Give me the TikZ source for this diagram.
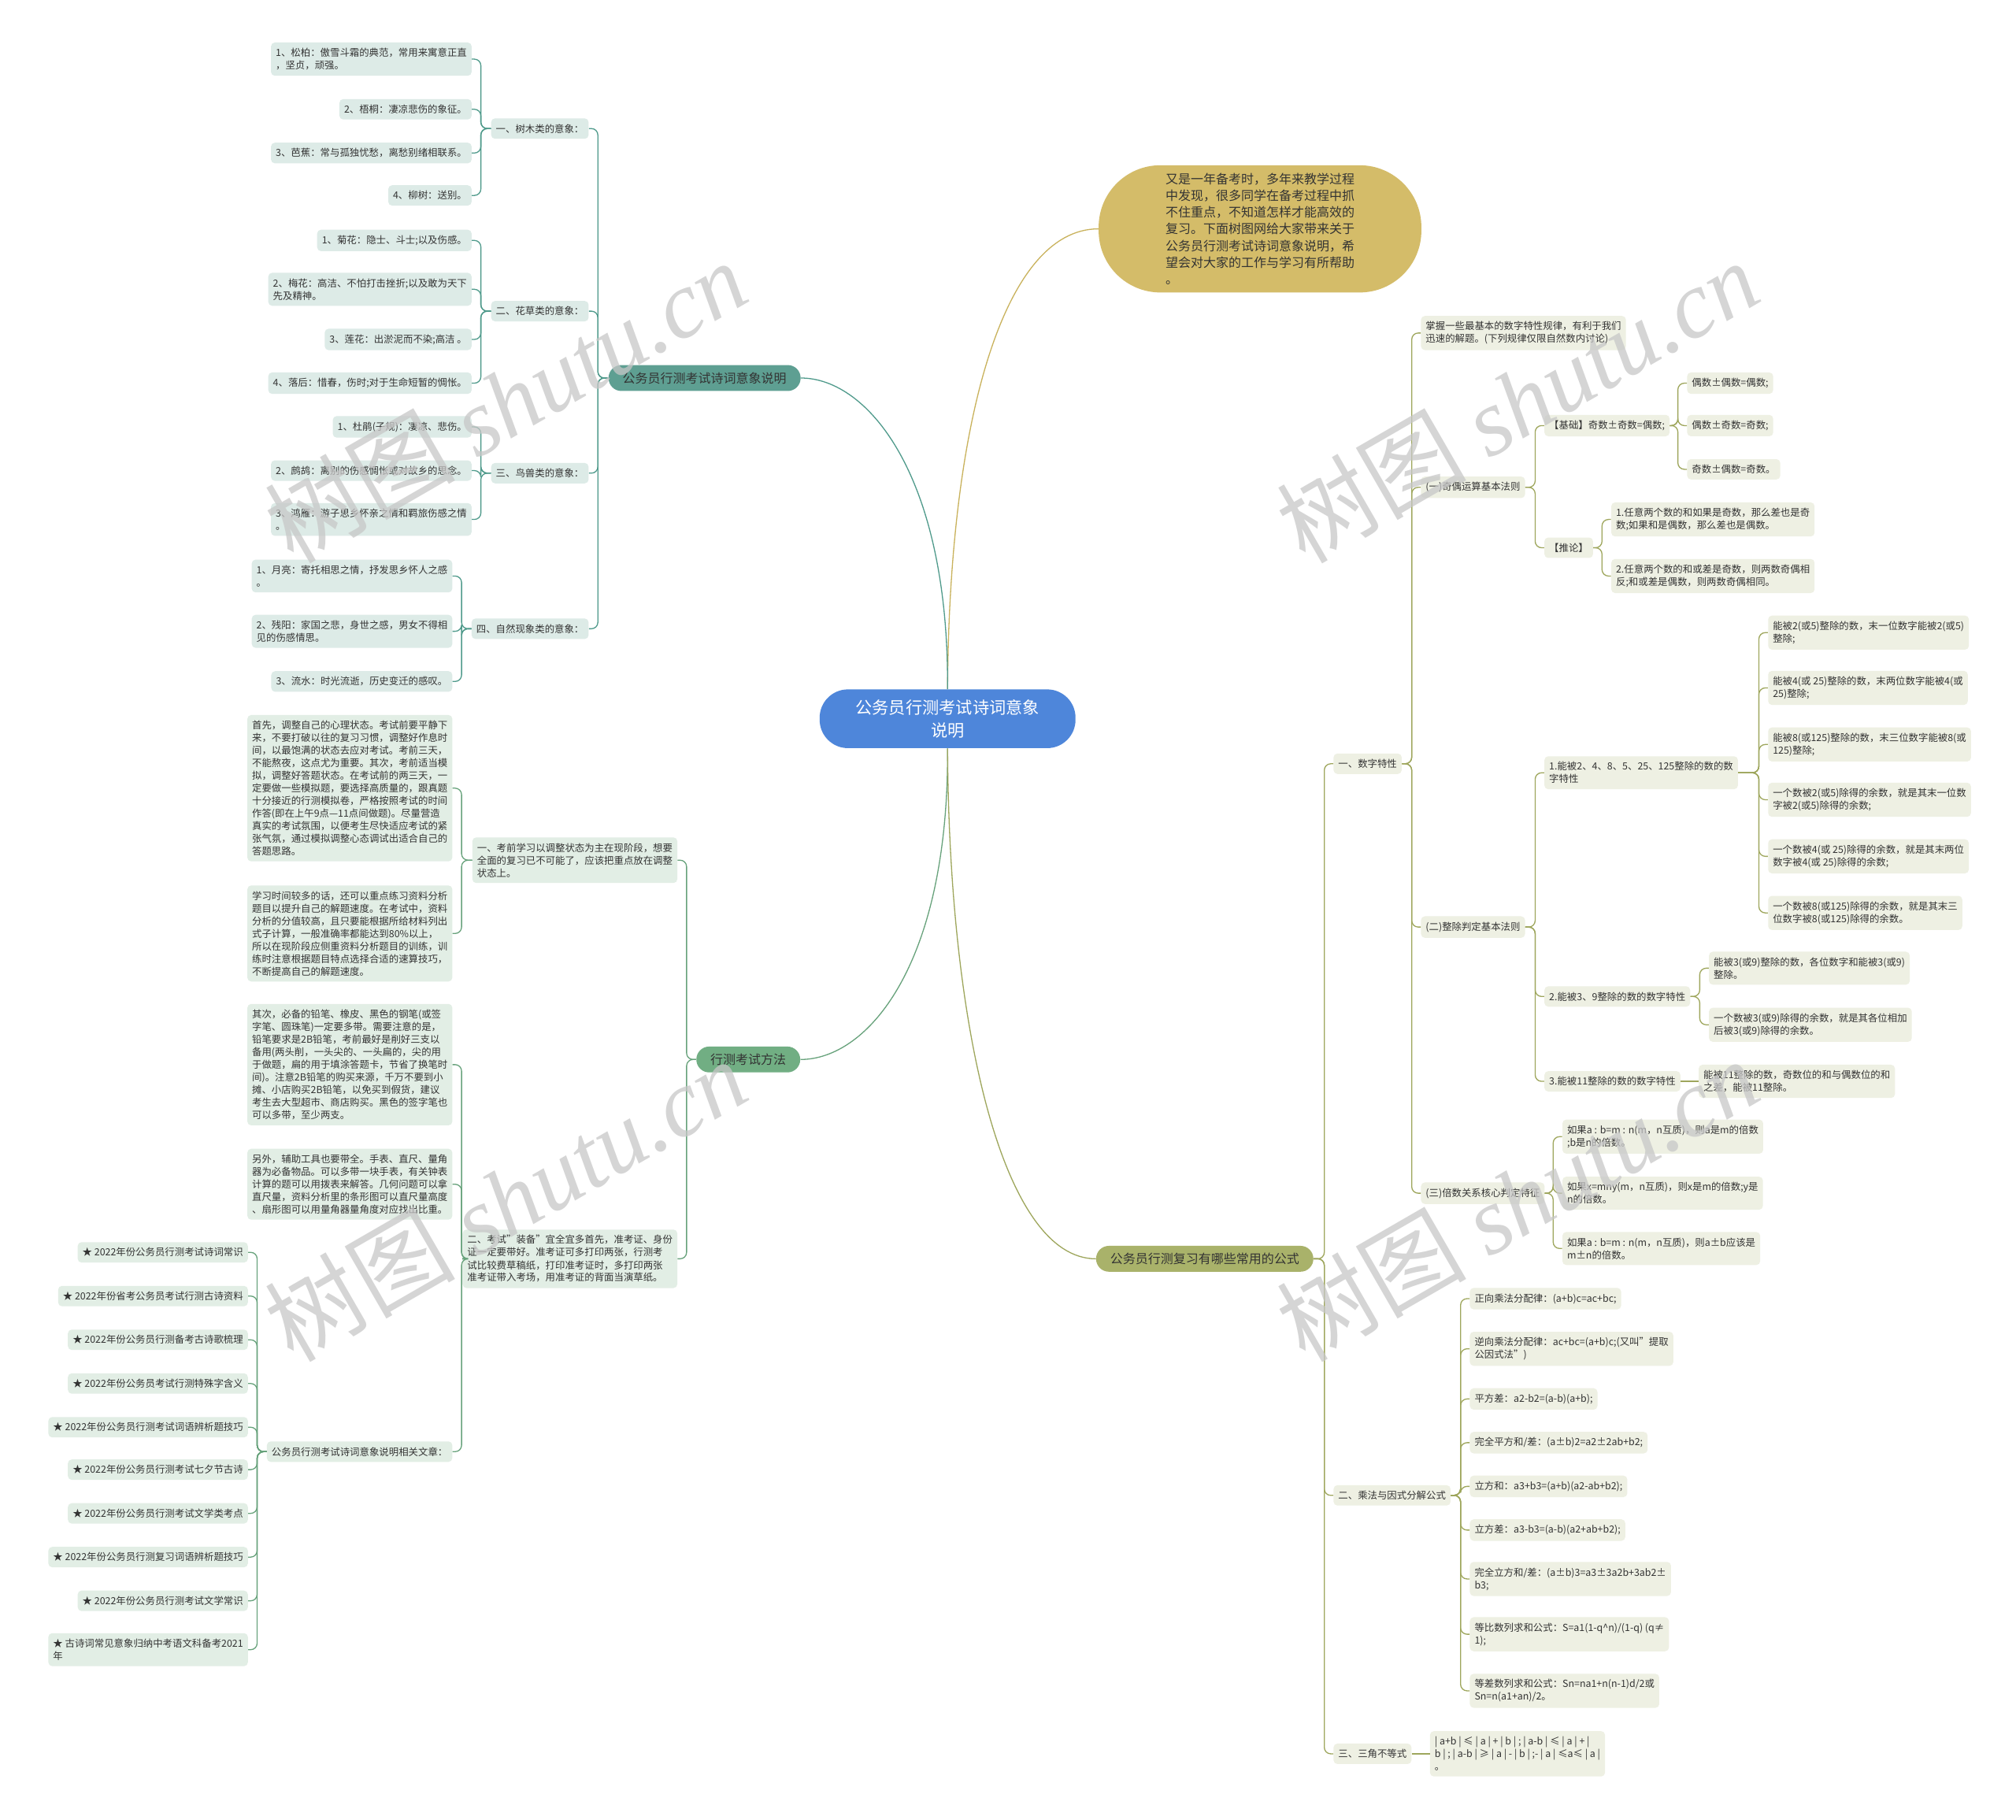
\documentclass[tikz,border=0pt]{standalone}
\usepackage{fontspec}
\setmainfont{Noto Sans CJK SC}
\newfontfamily\wmlatin{Liberation Serif}
\definecolor{rootblue}{HTML}{4E86DA}
\definecolor{introgold}{HTML}{D4BC69}
\definecolor{introline}{HTML}{C9B25C}
\definecolor{tealnode}{HTML}{5E9F92}
\definecolor{tealline}{HTML}{4F9A8B}
\definecolor{tealleaf}{HTML}{DDEBE7}
\definecolor{greennode}{HTML}{71AE83}
\definecolor{greenline}{HTML}{67A27B}
\definecolor{greenleaf}{HTML}{E2EEE5}
\definecolor{olivenode}{HTML}{A9B26A}
\definecolor{oliveline}{HTML}{9EA65C}
\definecolor{oliveleaf}{HTML}{EEF0E3}
\definecolor{ink}{HTML}{333333}
\newcommand{\leafsz}{\fontsize{7.6}{9.8}\selectfont}
\newcommand{\branchsz}{\fontsize{9.8}{12}\selectfont}
\newcommand{\introsz}{\fontsize{9.8}{13}\selectfont}
\newcommand{\rootsz}{\fontsize{13}{17.5}\selectfont}
\newcommand{\wmsz}{\fontsize{74}{74}\selectfont}
% child on the left of its parent / child on the right of its parent
\newcommand{\linkl}[3]{\draw[#1] (#3.east) -- ++(7,0) |- (#2.west);}
\newcommand{\linkr}[3]{\draw[#1] (#3.west) -- ++(-7,0) |- (#2.east);}

\begin{document}
\begin{tikzpicture}[x=1pt,y=-1pt,font=\leafsz,text=ink,
  leaf/.style={rounded corners=3,inner xsep=3.7,inner ysep=4.4,align=left},
  leafA/.style={leaf,fill=tealleaf},
  leafB/.style={leaf,fill=greenleaf},
  leafC/.style={leaf,fill=oliveleaf},
  branch/.style={font=\branchsz,rounded corners=10,inner xsep=11,inner ysep=5.5},
  lnA/.style={tealline,line width=0.8,rounded corners=5},
  lnB/.style={greenline,line width=0.8,rounded corners=5},
  lnC/.style={oliveline,line width=0.8,rounded corners=5},
  wmark/.style={rotate=30,text=black!22,opacity=0.75,font=\wmsz,inner sep=0}]
\useasboundingbox (0,0) rectangle (1568,1415);
\fill[white] (0,0) rectangle (1568,1415);

% centre and first level
\node[fill=rootblue,text=white,font=\rootsz,rounded corners=22,inner xsep=28,inner ysep=8,align=center] (root) at (737,559) {公务员行测考试诗词意象\\说明};
\node[fill=introgold,font=\introsz,rounded corners=48,inner xsep=52,inner ysep=6,align=left] (intro) at (980,178) {又是一年备考时，多年来教学过程\\中发现，很多同学在备考过程中抓\\不住重点，不知道怎样才能高效的\\复习。下面树图网给大家带来关于\\公务员行测考试诗词意象说明，希\\望会对大家的工作与学习有所帮助\\。};
\node[branch,fill=tealnode] (brA) at (548,294) {公务员行测考试诗词意象说明};
\node[branch,fill=greennode] (brB) at (582,824) {行测考试方法};
\node[branch,fill=olivenode] (brC) at (937,979) {公务员行测复习有哪些常用的公式};
\draw[introline,line width=0.8] (root.north) .. controls (738,330) and (780,178) .. (intro.west);
\draw[lnA] (root.north) .. controls (738,370) and (675,294) .. (brA.east);
\draw[lnB] (root.south) .. controls (738,750) and (675,824) .. (brB.east);
\draw[lnC] (root.south) .. controls (738,800) and (780,979) .. (brC.west);

% poem images
\node[leafA,anchor=east] (a1) at (458,100) {一、树木类的意象：};
\node[leafA,anchor=east] (a2) at (458,242) {二、花草类的意象：};
\node[leafA,anchor=east] (a3) at (458,368) {三、鸟兽类的意象：};
\node[leafA,anchor=east] (a4) at (458,489) {四、自然现象类的意象：};
\node[leafA,anchor=east] (a11) at (367,46) {1、松柏：傲雪斗霜的典范，常用来寓意正直\\，坚贞，顽强。};
\node[leafA,anchor=east] (a12) at (367,85) {2、梧桐：凄凉悲伤的象征。};
\node[leafA,anchor=east] (a13) at (367,119) {3、芭蕉：常与孤独忧愁，离愁别绪相联系。};
\node[leafA,anchor=east] (a14) at (367,152) {4、柳树：送别。};
\node[leafA,anchor=east] (a21) at (367,187) {1、菊花：隐士、斗士;以及伤感。};
\node[leafA,anchor=east] (a22) at (367,225) {2、梅花：高洁、不怕打击挫折;以及敢为天下\\先及精神。};
\node[leafA,anchor=east] (a23) at (367,264) {3、莲花：出淤泥而不染;高洁 。};
\node[leafA,anchor=east] (a24) at (367,298) {4、落后：惜春，伤时;对于生命短暂的惆怅。};
\node[leafA,anchor=east] (a31) at (367,332) {1、杜鹃(子规)：凄凉、悲伤。};
\node[leafA,anchor=east] (a32) at (367,366) {2、鹧鸪：离别的伤感惆怅或对故乡的思念。};
\node[leafA,anchor=east] (a33) at (367,404) {3、鸿雁：游子思乡怀亲之情和羁旅伤感之情\\。};
\node[leafA,anchor=east] (a41) at (352,448) {1、月亮：寄托相思之情，抒发思乡怀人之感\\。};
\node[leafA,anchor=east] (a42) at (352,491) {2、残阳：家国之悲，身世之感，男女不得相\\见的伤感情思。};
\node[leafA,anchor=east] (a43) at (352,530) {3、流水：时光流逝，历史变迁的感叹。};
\linkl{lnA}{brA}{a1} \linkl{lnA}{brA}{a2} \linkl{lnA}{brA}{a3} \linkl{lnA}{brA}{a4}
\linkl{lnA}{a1}{a11} \linkl{lnA}{a1}{a12} \linkl{lnA}{a1}{a13} \linkl{lnA}{a1}{a14}
\linkl{lnA}{a2}{a21} \linkl{lnA}{a2}{a22} \linkl{lnA}{a2}{a23} \linkl{lnA}{a2}{a24}
\linkl{lnA}{a3}{a31} \linkl{lnA}{a3}{a32} \linkl{lnA}{a3}{a33}
\linkl{lnA}{a4}{a41} \linkl{lnA}{a4}{a42} \linkl{lnA}{a4}{a43}

% exam method
\node[leafB,anchor=east] (b1) at (527,669) {一、考前学习以调整状态为主在现阶段，想要\\全面的复习已不可能了，应该把重点放在调整\\状态上。};
\node[leafB,anchor=east] (b2) at (527,979) {二、考试"装备"宜全宜多首先，准考证、身份\\证一定要带好。准考证可多打印两张，行测考\\试比较费草稿纸，打印准考证时，多打印两张\\准考证带入考场，用准考证的背面当演草纸。};
\node[leafB,anchor=east] (b11) at (352,613) {首先，调整自己的心理状态。考试前要平静下\\来，不要打破以往的复习习惯，调整好作息时\\间，以最饱满的状态去应对考试。考前三天，\\不能熬夜，这点尤为重要。其次，考前适当模\\拟，调整好答题状态。在考试前的两三天，一\\定要做一些模拟题，要选择高质量的，跟真题\\十分接近的行测模拟卷，严格按照考试的时间\\作答(即在上午9点—11点间做题)。尽量营造\\真实的考试氛围，以便考生尽快适应考试的紧\\张气氛，通过模拟调整心态调试出适合自己的\\答题思路。};
\node[leafB,anchor=east] (b12) at (352,726) {学习时间较多的话，还可以重点练习资料分析\\题目以提升自己的解题速度。在考试中，资料\\分析的分值较高，且只要能根据所给材料列出\\式子计算，一般准确率都能达到80\%以上，\\所以在现阶段应侧重资料分析题目的训练，训\\练时注意根据题目特点选择合适的速算技巧，\\不断提高自己的解题速度。};
\node[leafB,anchor=east] (b21) at (352,828) {其次，必备的铅笔、橡皮、黑色的钢笔(或签\\字笔、圆珠笔)一定要多带。需要注意的是，\\铅笔要求是2B铅笔，考前最好是削好三支以\\备用(两头削，一头尖的、一头扁的，尖的用\\于做题，扁的用于填涂答题卡，节省了换笔时\\间)。注意2B铅笔的购买来源，千万不要到小\\摊、小店购买2B铅笔，以免买到假货，建议\\考生去大型超市、商店购买。黑色的签字笔也\\可以多带，至少两支。};
\node[leafB,anchor=east] (b22) at (352,921) {另外，辅助工具也要带全。手表、直尺、量角\\器为必备物品。可以多带一块手表，有关钟表\\计算的题可以用拨表来解答。几何问题可以拿\\直尺量，资料分析里的条形图可以直尺量高度\\、扇形图可以用量角器量角度对应找出比重。};
\node[leafB,anchor=east] (b23) at (352,1129) {公务员行测考试诗词意象说明相关文章：};
\node[leafB,anchor=east] (art1) at (193,974) {★ 2022年份公务员行测考试诗词常识};
\node[leafB,anchor=east] (art2) at (193,1008) {★ 2022年份省考公务员考试行测古诗资料};
\node[leafB,anchor=east] (art3) at (193,1042) {★ 2022年份公务员行测备考古诗歌梳理};
\node[leafB,anchor=east] (art4) at (193,1076) {★ 2022年份公务员考试行测特殊字含义};
\node[leafB,anchor=east] (art5) at (193,1110) {★ 2022年份公务员行测考试词语辨析题技巧};
\node[leafB,anchor=east] (art6) at (193,1143) {★ 2022年份公务员行测考试七夕节古诗};
\node[leafB,anchor=east] (art7) at (193,1177) {★ 2022年份公务员行测考试文学类考点};
\node[leafB,anchor=east] (art8) at (193,1211) {★ 2022年份公务员行测复习词语辨析题技巧};
\node[leafB,anchor=east] (art9) at (193,1245) {★ 2022年份公务员行测考试文学常识};
\node[leafB,anchor=east] (art10) at (193,1283) {★ 古诗词常见意象归纳中考语文科备考2021\\年};
\linkl{lnB}{brB}{b1} \linkl{lnB}{brB}{b2}
\linkl{lnB}{b1}{b11} \linkl{lnB}{b1}{b12}
\linkl{lnB}{b2}{b21} \linkl{lnB}{b2}{b22} \linkl{lnB}{b2}{b23}
\linkl{lnB}{b23}{art1} \linkl{lnB}{b23}{art2} \linkl{lnB}{b23}{art3} \linkl{lnB}{b23}{art4}
\linkl{lnB}{b23}{art5} \linkl{lnB}{b23}{art6} \linkl{lnB}{b23}{art7} \linkl{lnB}{b23}{art8}
\linkl{lnB}{b23}{art9} \linkl{lnB}{b23}{art10}

% formulas
\node[leafC,anchor=west] (d1) at (1037,594) {一、数字特性};
\node[leafC,anchor=west] (d2) at (1037,1163) {二、乘法与因式分解公式};
\node[leafC,anchor=west] (d3) at (1037,1364) {三、三角不等式};
\node[leafC,anchor=west] (d11) at (1105,259) {掌握一些最基本的数字特性规律，有利于我们\\迅速的解题。(下列规律仅限自然数内讨论)};
\node[leafC,anchor=west] (d12) at (1105,379) {(一)奇偶运算基本法则};
\node[leafC,anchor=west] (d13) at (1105,721) {(二)整除判定基本法则};
\node[leafC,anchor=west] (d14) at (1105,928) {(三)倍数关系核心判定特征};
\node[leafC,anchor=west] (e1) at (1201,331) {【基础】奇数±奇数=偶数;};
\node[leafC,anchor=west] (e2) at (1201,426) {【推论】};
\node[leafC,anchor=west] (e11) at (1312,298) {偶数±偶数=偶数;};
\node[leafC,anchor=west] (e12) at (1312,331) {偶数±奇数=奇数;};
\node[leafC,anchor=west] (e13) at (1312,365) {奇数±偶数=奇数。};
\node[leafC,anchor=west] (e21) at (1253,404) {1.任意两个数的和如果是奇数，那么差也是奇\\数;如果和是偶数，那么差也是偶数。};
\node[leafC,anchor=west] (e22) at (1253,448) {2.任意两个数的和或差是奇数，则两数奇偶相\\反;和或差是偶数，则两数奇偶相同。};
\node[leafC,anchor=west] (f1) at (1201,601) {1.能被2、4、8、5、25、125整除的数的数\\字特性};
\node[leafC,anchor=west] (f2) at (1201,775) {2.能被3、9整除的数的数字特性};
\node[leafC,anchor=west] (f3) at (1201,841) {3.能被11整除的数的数字特性};
\node[leafC,anchor=west] (f11) at (1375,492) {能被2(或5)整除的数，末一位数字能被2(或5)\\整除;};
\node[leafC,anchor=west] (f12) at (1375,535) {能被4(或 25)整除的数，末两位数字能被4(或\\25)整除;};
\node[leafC,anchor=west] (f13) at (1375,579) {能被8(或125)整除的数，末三位数字能被8(或\\125)整除;};
\node[leafC,anchor=west] (f14) at (1375,622) {一个数被2(或5)除得的余数，就是其末一位数\\字被2(或5)除得的余数;};
\node[leafC,anchor=west] (f15) at (1375,666) {一个数被4(或 25)除得的余数，就是其末两位\\数字被4(或 25)除得的余数;};
\node[leafC,anchor=west] (f16) at (1375,710) {一个数被8(或125)除得的余数，就是其末三\\位数字被8(或125)除得的余数。};
\node[leafC,anchor=west] (f21) at (1329,753) {能被3(或9)整除的数，各位数字和能被3(或9)\\整除。};
\node[leafC,anchor=west] (f22) at (1329,797) {一个数被3(或9)除得的余数，就是其各位相加\\后被3(或9)除得的余数。};
\node[leafC,anchor=west] (f31) at (1321,841) {能被11整除的数，奇数位的和与偶数位的和\\之差，能被11整除。};
\node[leafC,anchor=west] (g1) at (1215,884) {如果a : b=m : n(m，n互质)，则a是m的倍数\\;b是n的倍数。};
\node[leafC,anchor=west] (g2) at (1215,928) {如果x=mny(m，n互质)，则x是m的倍数;y是\\n的倍数。};
\node[leafC,anchor=west] (g3) at (1215,971) {如果a : b=m : n(m，n互质)，则a±b应该是\\m±n的倍数。};
\node[leafC,anchor=west] (h1) at (1143,1010) {正向乘法分配律：(a+b)c=ac+bc;};
\node[leafC,anchor=west] (h2) at (1143,1049) {逆向乘法分配律：ac+bc=(a+b)c;(又叫"提取\\公因式法")};
\node[leafC,anchor=west] (h3) at (1143,1088) {平方差：a2-b2=(a-b)(a+b);};
\node[leafC,anchor=west] (h4) at (1143,1122) {完全平方和/差：(a±b)2=a2±2ab+b2;};
\node[leafC,anchor=west] (h5) at (1143,1156) {立方和：a3+b3=(a+b)(a2-ab+b2);};
\node[leafC,anchor=west] (h6) at (1143,1190) {立方差：a3-b3=(a-b)(a2+ab+b2);};
\node[leafC,anchor=west] (h7) at (1143,1228) {完全立方和/差：(a±b)3=a3±3a2b+3ab2±\\b3;};
\node[leafC,anchor=west] (h8) at (1143,1271) {等比数列求和公式：S=a1(1-q\textasciicircum n)/(1-q) (q≠\\1);};
\node[leafC,anchor=west] (h9) at (1143,1315) {等差数列求和公式：Sn=na1+n(n-1)d/2或\\Sn=n(a1+an)/2。};
\node[leafC,anchor=west] (k1) at (1112,1364) {| a+b | ≤ | a | + | b | ; | a-b | ≤ | a | + |\\b | ; | a-b | ≥ | a | - | b | ;- | a | ≤a≤ | a |\\。};
\linkr{lnC}{brC}{d1} \linkr{lnC}{brC}{d2} \linkr{lnC}{brC}{d3}
\linkr{lnC}{d1}{d11} \linkr{lnC}{d1}{d12} \linkr{lnC}{d1}{d13} \linkr{lnC}{d1}{d14}
\linkr{lnC}{d12}{e1} \linkr{lnC}{d12}{e2}
\linkr{lnC}{e1}{e11} \linkr{lnC}{e1}{e12} \linkr{lnC}{e1}{e13}
\linkr{lnC}{e2}{e21} \linkr{lnC}{e2}{e22}
\linkr{lnC}{d13}{f1} \linkr{lnC}{d13}{f2} \linkr{lnC}{d13}{f3}
\linkr{lnC}{f1}{f11} \linkr{lnC}{f1}{f12} \linkr{lnC}{f1}{f13}
\linkr{lnC}{f1}{f14} \linkr{lnC}{f1}{f15} \linkr{lnC}{f1}{f16}
\linkr{lnC}{f2}{f21} \linkr{lnC}{f2}{f22}
\draw[lnC] (f3.east) -- (f31.west);
\linkr{lnC}{d14}{g1} \linkr{lnC}{d14}{g2} \linkr{lnC}{d14}{g3}
\linkr{lnC}{d2}{h1} \linkr{lnC}{d2}{h2} \linkr{lnC}{d2}{h3}
\linkr{lnC}{d2}{h4} \linkr{lnC}{d2}{h5} \linkr{lnC}{d2}{h6}
\linkr{lnC}{d2}{h7} \linkr{lnC}{d2}{h8} \linkr{lnC}{d2}{h9}
\draw[lnC] (d3.east) -- (k1.west);

% watermark
\node[wmark] (wm1) at (393,312) {树图 {\wmlatin\itshape shutu.cn}};
\node[wmark] (wm2) at (1180,312) {树图 {\wmlatin\itshape shutu.cn}};
\node[wmark] (wm3) at (393,933) {树图 {\wmlatin\itshape shutu.cn}};
\node[wmark] (wm4) at (1180,933) {树图 {\wmlatin\itshape shutu.cn}};
\end{tikzpicture}
\end{document}
